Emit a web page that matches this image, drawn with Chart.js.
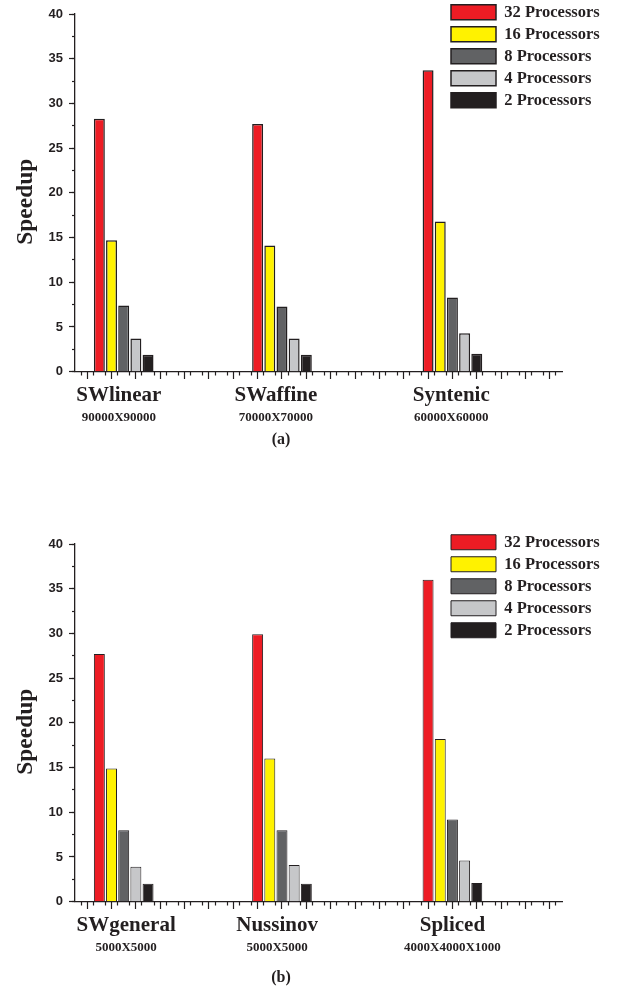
<!DOCTYPE html>
<html lang="en">
<head>
  <meta charset="UTF-8">
  <title>Speedup</title>
  <script src="https://cdn.jsdelivr.net/npm/chart.js"></script>
  <style>
    body { margin: 0; background: #fff; }
    .panel { position: absolute; left: 0; width: 618px; height: 460px; }
  </style>
</head>
<body>
  <div class="panel" style="top:0"><canvas id="chartA"></canvas></div>
  <div class="panel" style="top:530px"><canvas id="chartB"></canvas></div>

  <script>
    const seriesLabels = ['32 Processors', '16 Processors', '8 Processors', '4 Processors', '2 Processors'];
    const seriesColors = ['#ed1c24', '#fff200', '#616264', '#c6c7c9', '#231f20'];

    // (a)
    const namesA = ['SWlinear', 'SWaffine', 'Syntenic'];
    const sizesA = ['90000X90000', '70000X70000', '60000X60000'];
    const p32A = [28.3, 27.7, 33.7];
    const p16A = [14.7, 14.1, 16.8];
    const p8A = [7.4, 7.3, 8.3];
    const p4A = [3.7, 3.7, 4.3];
    const p2A = [1.9, 1.9, 2.0];

    // (b)
    const namesB = ['SWgeneral', 'Nussinov', 'Spliced'];
    const sizesB = ['5000X5000', '5000X5000', '4000X4000X1000'];
    const p32B = [27.7, 29.9, 36.0];
    const p16B = [14.9, 16.0, 18.2];
    const p8B = [8.0, 8.0, 9.2];
    const p4B = [3.9, 4.1, 4.6];
    const p2B = [2.0, 2.0, 2.1];

    // x axis runs 0..40, one unit per bar; first bar of each group and label spots
    const groupStartA = [2, 15, 29];
    const labelPosA = [3.6, 16.5, 30.9];
    const groupStartB = [2, 15, 29];
    const labelPosB = [4.2, 16.6, 31];

    const ink = '#231f20';
    const serif = 'Liberation Serif';
    const sans = 'Liberation Sans';

    // puts the legend in the upper right corner of the canvas
    const legendSpot = {
      id: 'legendSpot',
      afterLayout(chart) {
        const lg = chart.legend;
        const pad = lg.options.labels.padding;
        lg.left = 451 - pad;
        lg.top = 4 - pad;
        lg.right = lg.left + lg.width;
        lg.bottom = lg.top + lg.height;
      }
    };

    function makeChart(id, names, sizes, series, groupStart, labelPos, title, titlePad, borderW) {
      const datasets = series.map((vals, s) => ({
        label: seriesLabels[s],
        data: vals.map((v, i) => ({ x: groupStart[i] + s, y: v })),
        backgroundColor: seriesColors[s],
        borderColor: ink,
        borderWidth: borderW,
        grouped: false,
        barPercentage: 0.9,
        categoryPercentage: 1
      }));

      return new Chart(document.getElementById(id), {
        type: 'bar',
        data: { datasets },
        plugins: [legendSpot],
        options: {
          responsive: true,
          maintainAspectRatio: false,
          animation: false,
          layout: { padding: { left: 0, right: 56, top: 14, bottom: 0 } },
          scales: {
            x: {
              type: 'linear', min: 0, max: 40, offset: false, weight: 0,
              afterBuildTicks: s => { s.ticks = labelPos.map(v => ({ value: v })); },
              afterFit: s => { s.height = 38; },
              border: { color: ink, width: 1.3 },
              grid: { drawOnChartArea: false, drawTicks: false, offset: false },
              ticks: {
                autoSkip: false, maxRotation: 0, padding: 11, color: ink,
                font: { family: serif, weight: 'bold', size: 21 },
                callback: (v, i) => names[i]
              }
            },
            xSub: {
              type: 'linear', axis: 'x', position: 'bottom', min: 0, max: 40, offset: false, weight: 1,
              afterBuildTicks: s => { s.ticks = labelPos.map(v => ({ value: v })); },
              afterFit: s => { s.height = 16; },
              border: { display: false },
              grid: { display: false, drawTicks: false },
              ticks: {
                autoSkip: false, maxRotation: 0, padding: 0, color: ink,
                font: { family: serif, weight: 'bold', size: 13 },
                callback: (v, i) => sizes[i]
              }
            },
            xMajor: {
              type: 'linear', axis: 'x', position: { y: 0 }, min: 0, max: 40, offset: false,
              border: { display: false },
              grid: { drawOnChartArea: false, tickLength: 7, tickColor: ink, tickWidth: 1.2 },
              ticks: { stepSize: 2, display: false }
            },
            xMinor: {
              type: 'linear', axis: 'x', position: { y: 0 }, min: 0, max: 40, offset: false,
              border: { display: false },
              grid: { drawOnChartArea: false, tickLength: 3.5, tickColor: ink, tickWidth: 1.2 },
              ticks: { stepSize: 1, display: false }
            },
            y: {
              min: 0, max: 40,
              afterFit: s => { s.width = 75; },
              border: { color: ink, width: 1.3 },
              grid: { drawOnChartArea: false, tickLength: 6, tickColor: ink, tickWidth: 1.2 },
              ticks: {
                stepSize: 5, padding: 6, color: ink,
                font: { family: sans, weight: 'bold', size: 13 }
              },
              title: {
                // trailing no-break spaces nudge the rotated word a little lower
                display: true, text: 'Speedup\u00a0\u00a0\u00a0', color: ink,
                font: { family: serif, weight: 'bold', size: 23.5 },
                padding: { top: 12, bottom: 0 }
              }
            },
            yMinor: {
              type: 'linear', axis: 'y', position: { x: 0 }, min: 0, max: 40,
              border: { display: false },
              grid: { drawOnChartArea: false, tickLength: 3, tickColor: ink, tickWidth: 1.2 },
              ticks: { stepSize: 2.5, display: false }
            }
          },
          plugins: {
            tooltip: { enabled: false },
            legend: {
              position: 'chartArea',
              align: 'start',
              labels: {
                boxWidth: 45, boxHeight: 15, padding: 5.5, color: ink,
                font: { family: serif, weight: 'bold', size: 16.5 }
              }
            },
            title: {
              display: true, position: 'bottom', text: title, color: ink,
              font: { family: serif, weight: 'bold', size: 16 },
              padding: titlePad
            }
          }
        }
      });
    }

    makeChart('chartA', namesA, sizesA, [p32A, p16A, p8A, p4A, p2A], groupStartA, labelPosA, '(a)', { top: 4.7, bottom: 10.4 }, 1.5);
    makeChart('chartB', namesB, sizesB, [p32B, p16B, p8B, p4B, p2B], groupStartB, labelPosB, '(b)', { top: 12.7, bottom: 2.4 }, 1);
  </script>
</body>
</html>
